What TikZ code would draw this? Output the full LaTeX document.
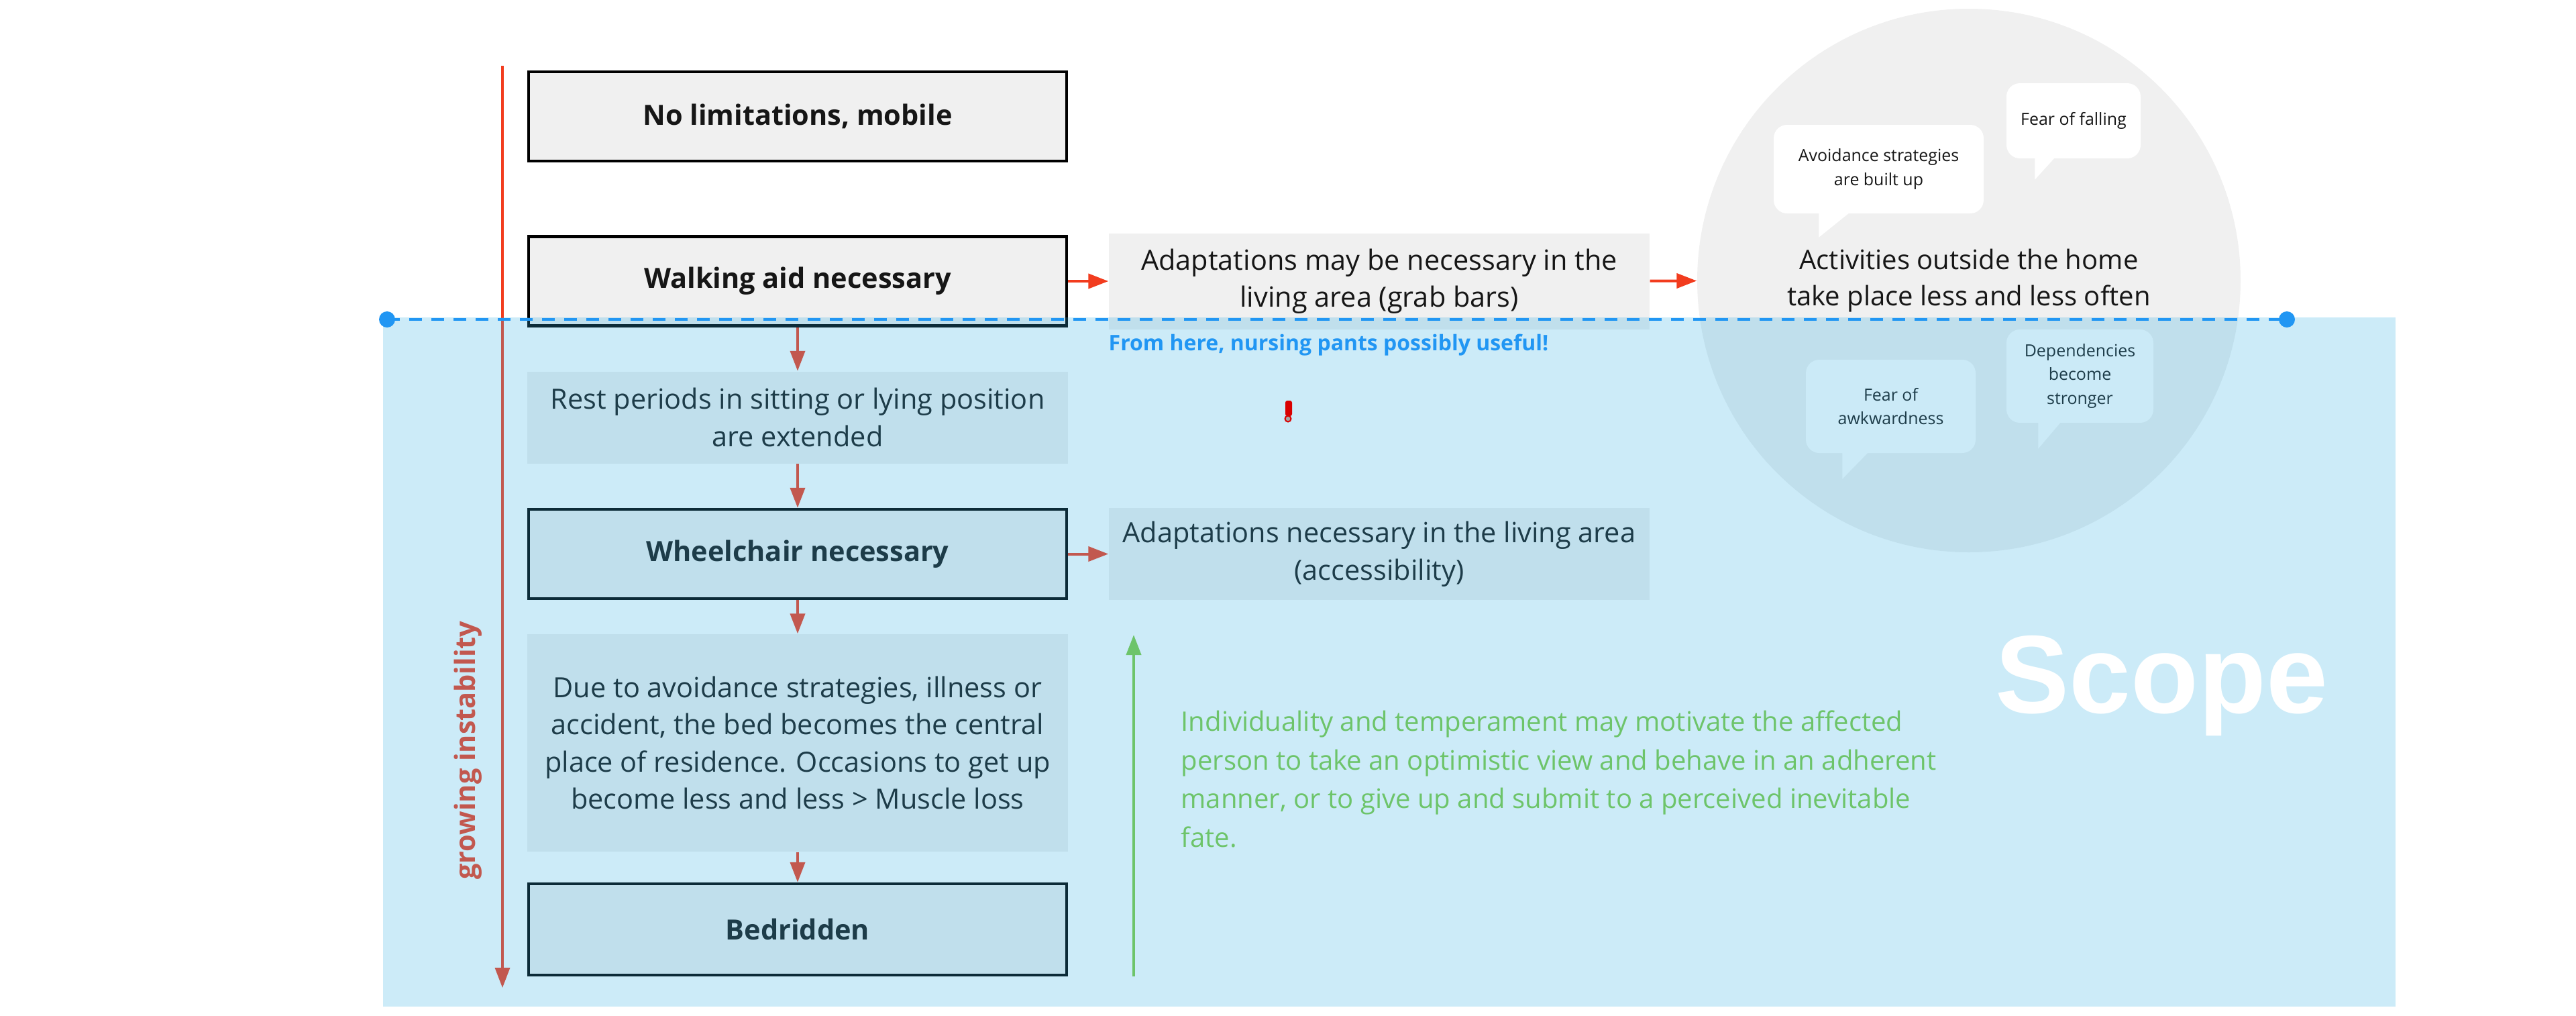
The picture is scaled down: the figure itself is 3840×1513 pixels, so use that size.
\documentclass[tikz,border=0pt]{standalone}
\usepackage{fontspec}
\setmainfont{Open Sans}
\newfontfamily\scopefont{Liberation Sans}
\usetikzlibrary{arrows.meta,positioning}
\definecolor{boxgray}{HTML}{F0F0F0}
\definecolor{arrowred}{HTML}{F23C1E}
\definecolor{scopeblue}{HTML}{33AFE3}
\definecolor{dashblue}{HTML}{2196F3}
\definecolor{hopegreen}{HTML}{6DC46A}
\definecolor{inktext}{HTML}{161616}
\tikzset{
  stage/.style={minimum width=80.6mm, minimum height=13.7mm, inner sep=0pt,
    fill=boxgray, align=center, text=inktext,
    font=\fontsize{11.8}{15.8}\selectfont},
  milestone/.style={stage, draw=black, line width=0.45mm,
    minimum width=80.2mm, minimum height=13.3mm,
    font=\fontsize{11.8}{15.8}\selectfont\bfseries},
  bubble/.style={fill=white, rounded corners=2mm, inner sep=0pt, align=center,
    text=inktext, font=\fontsize{7.1}{10}\selectfont},
  flow/.style={->, arrowred, line width=0.4mm},
}
\begin{document}
\begin{tikzpicture}[x=0.1mm, y=-0.1mm, >={Triangle[length=3mm,width=2.2mm]}]
  \useasboundingbox (0,0) rectangle (3840,1513);
  % stages
  \node[milestone] (NOLIM) at (1189,173.5) {No limitations, mobile};
  \node[milestone] (WALK) at (1189,419) {Walking aid necessary};
  \node[stage] (REST) at (1189,622) {Rest periods in sitting or lying position\\are extended};
  \node[milestone] (WHEEL) at (1189,825.5) {Wheelchair necessary};
  \node[stage, minimum height=32.4mm] (DUE) at (1189,1107) {Due to avoidance strategies, illness or\\accident, the bed becomes the central\\place of residence. Occasions to get up\\become less and less > Muscle loss};
  \node[milestone, minimum height=13.6mm] (BED) at (1189,1385) {Bedridden};
  \node[stage, minimum height=14.3mm] (ADAPTA) at (2056,419) {Adaptations may be necessary in the\\living area (grab bars)};
  \node[stage] (ADAPTB) at (2056,825.5) {Adaptations necessary in the living area\\(accessibility)};
  \node[circle, fill=boxgray, minimum size=81mm, inner sep=0pt, align=center,
    text=inktext, font=\fontsize{11.4}{15.6}\selectfont] (HOME) at (2935,418)
    {Activities outside the home\\take place less and less often};
  % bubbles
  \node[bubble, minimum width=31.3mm, minimum height=13.2mm] (AVOID) at (2800.5,252) {Avoidance strategies\\are built up};
  \node[bubble, minimum width=20mm, minimum height=11.2mm] (FALL) at (3091,180) {Fear of falling};
  \node[bubble, minimum width=25.3mm, minimum height=13.9mm] (AWK) at (2818.5,605.5) {Fear of\\awkwardness};
  \node[bubble, minimum width=21.9mm, minimum height=13.9mm] (DEP) at (3100.5,560.5) {Dependencies\\become\\stronger};
  \foreach \b/\o/\w/\d in {AVOID/68/46/35, FALL/43/30/31, AWK/55/39/38, DEP/48/34/38}
    \fill[white] (\b.south west) ++(\o,-2) -- ++(0,\d+2) -- ++(\w,-\d-2) -- cycle;
  % arrows
  \foreach \a/\b in {WALK/REST, REST/WHEEL, WHEEL/DUE, DUE/BED}
    \draw[flow] (\a) -- (\b);
  \draw[flow] (WALK) -- (ADAPTA);
  \draw[flow] (ADAPTA) -- (HOME);
  \draw[flow] (WHEEL) -- (ADAPTB);
  \coordinate (ITOP) at (749,98);
  \coordinate (IBOT) at (749,1472);
  \draw[flow, line width=0.35mm] (ITOP) -- (IBOT);
  \node[rotate=90, text=arrowred, font=\fontsize{11.8}{14}\selectfont\bfseries] (GROW) at (698,1118) {growing instability};
  % scope
  \fill[scopeblue, opacity=0.25] (571,473) rectangle (3571,1500);
  \coordinate (DL) at (577,476);
  \coordinate (DR) at (3409,476);
  \draw[dashblue, line width=0.45mm, dash pattern=on 1.9mm off 1.4mm] (DL) -- (DR);
  \fill[dashblue] (DL) circle[radius=1.2mm] (DR) circle[radius=1.2mm];
  \node[anchor=base west, inner sep=0pt, text=dashblue, font=\fontsize{9.1}{11}\selectfont\bfseries] (PANTS) at (1652,522) {From here, nursing pants possibly useful!};
  \coordinate (GBOT) at (1690,1455);
  \coordinate (GTOP) at (1690,946);
  \draw[->, hopegreen, line width=0.4mm] (GBOT) -- (GTOP);
  \node[anchor=north west, inner sep=0pt, align=left, text=hopegreen, font=\fontsize{11.4}{16.4}\selectfont] (TEMPER) at (1760,1058) {Individuality and temperament may motivate the affected\\person to take an optimistic view and behave in an adherent\\manner, or to give up and submit to a perceived inevitable\\fate.};
  \node[anchor=base, inner sep=0pt, text=white, font=\scopefont\fontsize{47}{50}\selectfont\bfseries] (SCOPE) at (3222,1062) {Scope};
  \fill[red!85!black, rounded corners=0.3mm] (1916,597) rectangle (1926,620);
  \filldraw[fill=gray!70, draw=red!85!black, line width=0.2mm] (1920,624) circle[radius=0.45mm];
\end{tikzpicture}
\end{document}
